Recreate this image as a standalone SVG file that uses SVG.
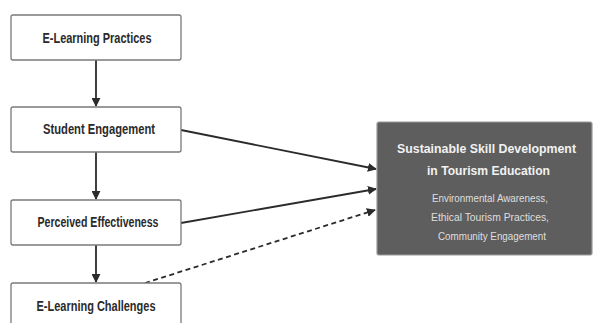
<svg xmlns="http://www.w3.org/2000/svg" width="595" height="323" viewBox="0 0 595 323">
  <style>
    .box { fill: #ffffff; stroke: #7a7a7a; stroke-width: 1.3; }
    .lbl { font-family: "Liberation Sans", Arial, sans-serif; font-size: 14px; font-weight: bold; fill: #2a2a2a; text-anchor: middle; }
    .edge { stroke: #2b2b2b; stroke-width: 1.8; fill: none; }
    .dash { stroke-dasharray: 5 3.5; }
    .ttl { font-family: "Liberation Sans", Arial, sans-serif; font-size: 13px; font-weight: bold; fill: #f2f2f2; text-anchor: middle; }
    .sub { font-family: "Liberation Sans", Arial, sans-serif; font-size: 11px; fill: #dedede; text-anchor: middle; }
  </style>
  <defs>
    <marker id="arrow" viewBox="0 0 10 10" refX="9" refY="5" markerWidth="9" markerHeight="9" orient="auto" markerUnits="userSpaceOnUse">
      <path d="M0,0 L10,5 L0,10 z" fill="#2b2b2b"/>
    </marker>
  </defs>
  <rect width="595" height="323" fill="#ffffff"/>

  <g id="connectors">
    <line class="edge" x1="96" y1="60" x2="96" y2="106" marker-end="url(#arrow)"/>
    <line class="edge" x1="96" y1="152" x2="96" y2="199" marker-end="url(#arrow)"/>
    <line class="edge" x1="96" y1="245" x2="96" y2="282" marker-end="url(#arrow)"/>
    <line class="edge" x1="181" y1="130" x2="376" y2="169" marker-end="url(#arrow)"/>
    <line class="edge" x1="181" y1="223" x2="376" y2="189" marker-end="url(#arrow)"/>
    <line class="edge dash" x1="145" y1="283" x2="375" y2="210" marker-end="url(#arrow)"/>
  </g>

  <g id="node-practices">
    <rect class="box" x="11" y="15" width="170" height="45" rx="2"/>
    <text class="lbl" x="97" y="43" textLength="109" lengthAdjust="spacingAndGlyphs">E-Learning Practices</text>
  </g>
  <g id="node-engagement">
    <rect class="box" x="11" y="107" width="170" height="45" rx="2"/>
    <text class="lbl" x="99" y="134" textLength="112" lengthAdjust="spacingAndGlyphs">Student Engagement</text>
  </g>
  <g id="node-effectiveness">
    <rect class="box" x="11" y="200" width="170" height="45" rx="2"/>
    <text class="lbl" x="98" y="227" textLength="121" lengthAdjust="spacingAndGlyphs">Perceived Effectiveness</text>
  </g>
  <g id="node-challenges">
    <rect class="box" x="11" y="283" width="170" height="45" rx="2"/>
    <text class="lbl" x="96" y="311" textLength="119" lengthAdjust="spacingAndGlyphs">E-Learning Challenges</text>
  </g>

  <g id="node-outcome">
    <rect x="377" y="122" width="215" height="133" rx="2" fill="#5e5e5e" stroke="#9a9a9a" stroke-width="1.2"/>
    <text class="ttl" x="486.5" y="153" textLength="179" lengthAdjust="spacingAndGlyphs">Sustainable Skill Development</text>
    <text class="ttl" x="488.5" y="175" textLength="123" lengthAdjust="spacingAndGlyphs">in Tourism Education</text>
    <text class="sub" x="490" y="202" textLength="116" lengthAdjust="spacingAndGlyphs">Environmental Awareness,</text>
    <text class="sub" x="490" y="221" textLength="118" lengthAdjust="spacingAndGlyphs">Ethical Tourism Practices,</text>
    <text class="sub" x="492" y="240" textLength="108" lengthAdjust="spacingAndGlyphs">Community Engagement</text>
  </g>
</svg>
